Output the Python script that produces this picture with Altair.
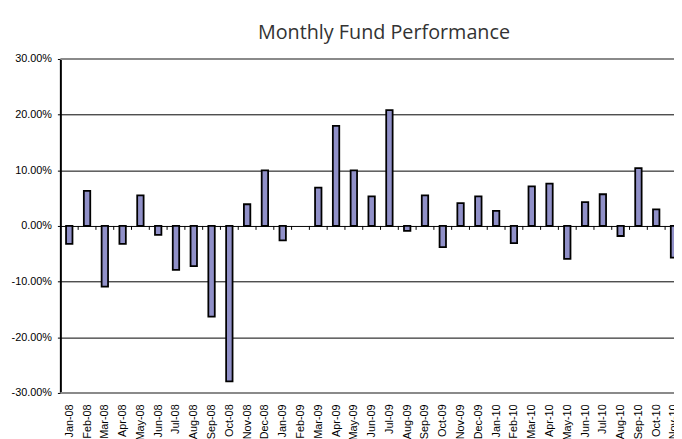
import altair as alt
import pandas as pd

months = ["Jan-08", "Feb-08", "Mar-08", "Apr-08", "May-08", "Jun-08", "Jul-08", "Aug-08",
          "Sep-08", "Oct-08", "Nov-08", "Dec-08", "Jan-09", "Feb-09", "Mar-09", "Apr-09",
          "May-09", "Jun-09", "Jul-09", "Aug-09", "Sep-09", "Oct-09", "Nov-09", "Dec-09",
          "Jan-10", "Feb-10", "Mar-10", "Apr-10", "May-10", "Jun-10", "Jul-10", "Aug-10",
          "Sep-10", "Oct-10", "Nov-10"]
returns = [-3.2, 6.3, -10.9, -3.2, 5.5, -1.6, -7.9, -7.2,
           -16.3, -27.9, 3.9, 10.0, -2.6, 0.0, 6.9, 18.0,
           10.0, 5.3, 20.8, -0.9, 5.5, -3.8, 4.1, 5.3,
           2.7, -3.1, 7.1, 7.6, -5.9, 4.3, 5.7, -1.8,
           10.4, 3.0, -5.7]
y_ticks = [-0.3, -0.2, -0.1, 0.0, 0.1, 0.2, 0.3]

df = pd.DataFrame({
    "idx": list(range(len(months))),
    "month": months,
    "ret": [r / 100 for r in returns],
})

label_expr = "[" + ",".join("'%s'" % m for m in months) + "][datum.value]"

x_scale = alt.Scale(domain=[-0.5, len(months) - 1], nice=False, zero=False, padding=0)
y_scale = alt.Scale(domain=[-0.3, 0.3], nice=False, zero=False, padding=0)

x_axis = alt.Axis(values=list(range(len(months))), labelExpr=label_expr,
                  labelAngle=270, labelFont="Liberation Sans", labelFontSize=11,
                  labelColor="black", labelPadding=11, ticks=False, domain=False,
                  grid=False, labelBound=False, labelFlush=False, labelOverlap=False,
                  title=None)
y_axis = alt.Axis(values=y_ticks,
                  labelExpr="replace(format(datum.value, '.2%'), '\u2212', '-')",
                  grid=True, gridColor="black", gridWidth=1, gridOpacity=1,
                  domainColor="black", domainWidth=2, tickColor="black", tickSize=3,
                  labelPadding=6, labelFont="Liberation Sans", labelFontSize=11,
                  labelColor="black", title=None)

base = alt.Chart(df)

bars = base.mark_bar(width=6.5, fill="#9090C8", stroke="black", strokeWidth=1.8, clip=True).encode(
    x=alt.X("idx:Q", scale=x_scale, axis=x_axis),
    y=alt.Y("ret:Q", scale=y_scale, axis=y_axis),
    strokeOpacity=alt.condition("datum.ret == 0", alt.value(0), alt.value(1)),
)

ticks = base.transform_calculate(b="datum.idx + 0.5").mark_rule(
    color="black", strokeWidth=1, clip=True
).encode(
    x=alt.X("b:Q", scale=x_scale, axis=x_axis),
    y=alt.datum(0),
    y2=alt.datum(-0.007),
)

border = alt.Chart(pd.DataFrame({"v": [0.3, -0.3]})).mark_rule(
    color="#8a8a8a", strokeWidth=2
).encode(y=alt.Y("v:Q", scale=y_scale, axis=y_axis))

chart = alt.layer(bars, ticks, border).properties(
    width=621,
    height=338,
    title=alt.TitleParams("Monthly Fund Performance", font="Open Sans", fontSize=20,
                          fontWeight="normal", color="#333333", anchor="middle", dx=17,
                          dy=24, baseline="alphabetic", offset=18),
    autosize=alt.AutoSizeParams(type="none"),
    padding={"left": 53, "top": 49, "right": 0, "bottom": 44},
).configure_view(stroke=None)

chart.save("out.html", embed_options={"renderer": "svg", "actions": False})
